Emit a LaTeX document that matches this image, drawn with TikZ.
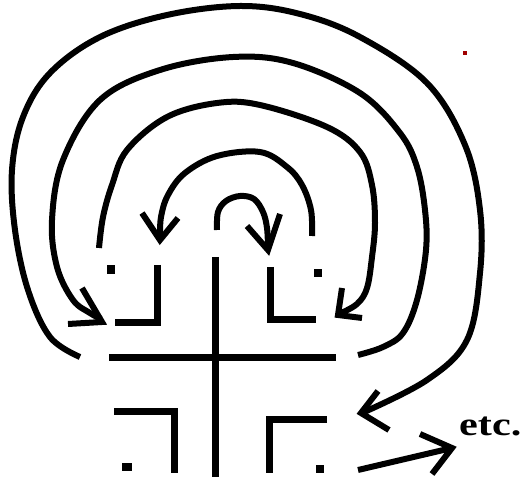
\documentclass[tikz,border=0pt]{standalone}
\usepackage{fontspec}
\usepackage{graphicx}
\newfontfamily\etcfont{Liberation Serif}
\definecolor{dotred}{HTML}{A00000}
\begin{document}
\begin{tikzpicture}[x=1pt,y=-1pt,
  wall/.style={line width=7pt},
  curve/.style={line width=6pt, line cap=butt},
  barb/.style={line width=6pt, line join=miter},
  dot/.style={fill=black}]
\useasboundingbox (0,0) rectangle (525,481);
% straight walls
\draw[wall] (215,257) -- (215,477);
\draw[wall] (109,357) -- (336,357);
\draw[wall] (157,265) -- (157,322) -- (115,322);
\draw[wall] (270,267) -- (270,319) -- (316,319);
\draw[wall] (114,411) -- (174,411) -- (174,473);
\draw[wall] (327,419) -- (269,419) -- (269,473);
% dots
\fill[dot] (107,265) rectangle (115,274);
\fill[dot] (314,269) rectangle (322,277);
\fill[dot] (122,463) rectangle (132,471);
\fill[dot] (316,465) rectangle (324,473);
\fill[dotred] (462.5,51.5) rectangle (466.5,55.5);
% arc 1 (small)
\coordinate (a1e) at (268,250);
\draw[curve] plot[smooth, tension=0.6] coordinates {(217,230) (218,212) (226,201) (240,196) (254,199) (263,212) (267,228) (268,248)};
\draw[barb] (247,226) -- (a1e) -- (280,214);
% arc 2
\coordinate (a2e) at (160,240);
\draw[curve] plot[smooth, tension=0.6] coordinates {(312,236) (311,210) (302,185) (287,167) (260,152) (217,156) (185,173) (168,195) (161,217) (160,238)};
\draw[barb] (142,213) -- (a2e) -- (178,218);
% arc 3
\coordinate (a3e) at (338,315);
\draw[curve] plot[smooth, tension=0.6] coordinates {(99,248) (103,217) (112,185) (127,150) (167,117) (217,103) (260,105) (327,127) (360,152) (372,185) (375,223) (372,257) (367,288) (357,304) (339,314)};
\draw[barb] (342,288) -- (a3e) -- (362,318);
% arc 4
\coordinate (a4e) at (102,322);
\draw[curve] plot[smooth, tension=0.6] coordinates {(358,355) (383,347) (403,333) (417,300) (426,250) (425,210) (417,167) (400,133) (360,93) (293,63) (233,57) (160,70) (100,100) (63,160) (52,220) (57,267) (73,300) (90,313) (101,319)};
\draw[barb] (82,288) -- (a4e) -- (68,324);
% arc 5 (outermost)
\coordinate (a5e) at (361,413);
\draw[curve] plot[smooth, tension=0.6] coordinates {(80,357) (50,337) (28,290) (15,230) (12,170) (23,117) (50,73) (100,37) (167,15) (240,6) (300,14) (360,37) (427,83) (465,145) (480,210) (480,273) (467,340) (427,380) (362,413)};
\draw[barb] (378,391) -- (a5e) -- (389,430);
% bottom arrow
\coordinate (b0) at (358,470);
\coordinate (b1) at (452,448);
\draw[curve] (b0) -- (b1);
\draw[barb] (420,434) -- (b1) -- (432,474);
\node[anchor=base west, inner sep=0pt, font=\etcfont\bfseries\fontsize{33}{33}\selectfont] (etc) at (459,435) {\scalebox{1.28}[1]{etc.}};
\end{tikzpicture}
\end{document}
